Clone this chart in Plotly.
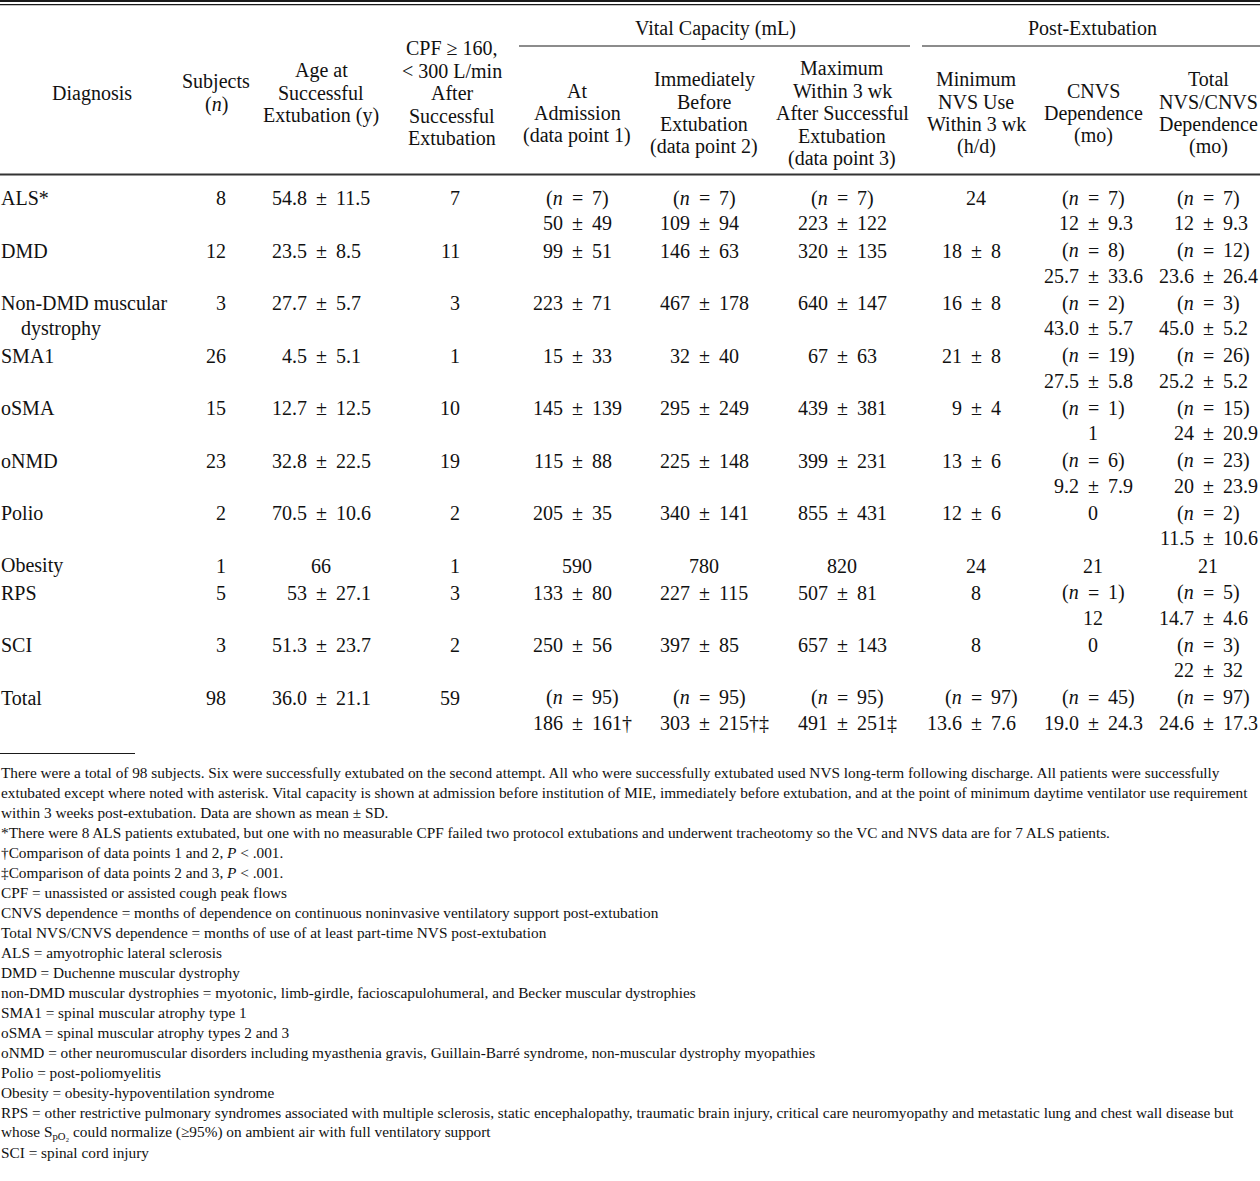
import plotly.graph_objects as go

# ---------------- data ----------------
diagnosis = ["ALS*", "DMD", "Non-DMD muscular\ndystrophy", "SMA1", "oSMA", "oNMD",
             "Polio", "Obesity", "RPS", "SCI", "Total"]
subjects_n = ["8", "12", "3", "26", "15", "23", "2", "1", "5", "3", "98"]
age_mean = ["54.8", "23.5", "27.7", "4.5", "12.7", "32.8", "70.5", "66", "53", "51.3", "36.0"]
age_sd = ["11.5", "8.5", "5.7", "5.1", "12.5", "22.5", "10.6", None, "27.1", "23.7", "21.1"]
cpf_count = ["7", "11", "3", "1", "10", "19", "2", "1", "3", "2", "59"]

vc1_n = ["7", None, None, None, None, None, None, None, None, None, "95"]
vc1_mean = ["50", "99", "223", "15", "145", "115", "205", "590", "133", "250", "186"]
vc1_sd = ["49", "51", "71", "33", "139", "88", "35", None, "80", "56", "161†"]

vc2_n = ["7", None, None, None, None, None, None, None, None, None, "95"]
vc2_mean = ["109", "146", "467", "32", "295", "225", "340", "780", "227", "397", "303"]
vc2_sd = ["94", "63", "178", "40", "249", "148", "141", None, "115", "85", "215†‡"]

vc3_n = ["7", None, None, None, None, None, None, None, None, None, "95"]
vc3_mean = ["223", "320", "640", "67", "439", "399", "855", "820", "507", "657", "491"]
vc3_sd = ["122", "135", "147", "63", "381", "231", "431", None, "81", "143", "251‡"]

nvs_n = [None, None, None, None, None, None, None, None, None, None, "97"]
nvs_mean = ["24", "18", "16", "21", "9", "13", "12", "24", "8", "8", "13.6"]
nvs_sd = [None, "8", "8", "8", "4", "6", "6", None, None, None, "7.6"]

cnvs_n = ["7", "8", "2", "19", "1", "6", None, None, "1", None, "45"]
cnvs_mean = ["12", "25.7", "43.0", "27.5", "1", "9.2", "0", "21", "12", "0", "19.0"]
cnvs_sd = ["9.3", "33.6", "5.7", "5.8", None, "7.9", None, None, None, None, "24.3"]

tot_n = ["7", "12", "3", "26", "15", "23", "2", None, "5", "3", "97"]
tot_mean = ["12", "23.6", "45.0", "25.2", "24", "20", "11.5", "21", "14.7", "22", "24.6"]
tot_sd = ["9.3", "26.4", "5.2", "5.2", "20.9", "23.9", "10.6", None, "4.6", "32", "17.3"]

spanners = ["Vital Capacity (mL)", "Post-Extubation"]
headers = [
    ["Diagnosis"],
    ["Subjects", "(<i>n</i>)"],
    ["Age at", "Successful", "Extubation (y)"],
    ["CPF ≥ 160,", "< 300 L/min", "After", "Successful", "Extubation"],
    ["At", "Admission", "(data point 1)"],
    ["Immediately", "Before", "Extubation", "(data point 2)"],
    ["Maximum", "Within 3 wk", "After Successful", "Extubation", "(data point 3)"],
    ["Minimum", "NVS Use", "Within 3 wk", "(h/d)"],
    ["CNVS", "Dependence", "(mo)"],
    ["Total", "NVS/CNVS", "Dependence", "(mo)"],
]

footnotes = [
    "There were a total of 98 subjects. Six were successfully extubated on the second attempt. All who were successfully extubated used NVS long-term following discharge. All patients were successfully",
    "extubated except where noted with asterisk. Vital capacity is shown at admission before institution of MIE, immediately before extubation, and at the point of minimum daytime ventilator use requirement",
    "within 3 weeks post-extubation. Data are shown as mean ± SD.",
    "*There were 8 ALS patients extubated, but one with no measurable CPF failed two protocol extubations and underwent tracheotomy so the VC and NVS data are for 7 ALS patients.",
    "†Comparison of data points 1 and 2, <i>P</i> < .001.",
    "‡Comparison of data points 2 and 3, <i>P</i> < .001.",
    "CPF = unassisted or assisted cough peak flows",
    "CNVS dependence = months of dependence on continuous noninvasive ventilatory support post-extubation",
    "Total NVS/CNVS dependence = months of use of at least part-time NVS post-extubation",
    "ALS = amyotrophic lateral sclerosis",
    "DMD = Duchenne muscular dystrophy",
    "non-DMD muscular dystrophies = myotonic, limb-girdle, facioscapulohumeral, and Becker muscular dystrophies",
    "SMA1 = spinal muscular atrophy type 1",
    "oSMA = spinal muscular atrophy types 2 and 3",
    "oNMD = other neuromuscular disorders including myasthenia gravis, Guillain-Barré syndrome, non-muscular dystrophy myopathies",
    "Polio = post-poliomyelitis",
    "Obesity = obesity-hypoventilation syndrome",
    "RPS = other restrictive pulmonary syndromes associated with multiple sclerosis, static encephalopathy, traumatic brain injury, critical care neuromyopathy and metastatic lung and chest wall disease but",
    "whose S<sub>pO₂</sub> could normalize (≥95%) on ambient air with full ventilatory support",
    "SCI = spinal cord injury",
]

# ---------------- layout constants ----------------
W, H = 1260, 1181
FONT = "Liberation Serif, Times New Roman, serif"
INK = "#111111"
BODY = 20
NOTE = 15.3

col_x = [92, 216, 321, 452, 577, 704, 842, 976, 1093, 1208]
header_mid = [93, 93, 93, 93, 113, 113, 113, 113, 113, 113]
HEAD_LS = 22.5
LINE2 = 25.0
GAP = 13.5

anns = []


def txt(x, y, s, anchor="center", size=BODY):
    anns.append(dict(x=x, y=y, xref="x", yref="y", text=s, showarrow=False,
                     xanchor=anchor, yanchor="middle", borderpad=0,
                     font=dict(family=FONT, size=size, color=INK)))


def split_cell(cx, y, left, mid, right):
    txt(cx - GAP, y, left, "right")
    txt(cx, y, mid, "center")
    txt(cx + GAP, y, right, "left")


def value_cell(cx, y, n, mean, sd):
    if n is not None:
        split_cell(cx, y, "(<i>n</i>", "=", n + ")")
        y = y + LINE2
    if sd is None:
        txt(cx, y, mean, "center")
    else:
        split_cell(cx, y, mean, "±", sd)


# headers
for cx, mid, lines in zip(col_x, header_mid, headers):
    top = mid - HEAD_LS * (len(lines) - 1) / 2
    for i, s in enumerate(lines):
        txt(cx, top + i * HEAD_LS, s)
txt(715, 28, spanners[0])
txt(1092, 28, spanners[1])

# body rows
value_cols = [
    (col_x[4], vc1_n, vc1_mean, vc1_sd),
    (col_x[5], vc2_n, vc2_mean, vc2_sd),
    (col_x[6], vc3_n, vc3_mean, vc3_sd),
    (col_x[7], nvs_n, nvs_mean, nvs_sd),
    (col_x[8], cnvs_n, cnvs_mean, cnvs_sd),
    (col_x[9], tot_n, tot_mean, tot_sd),
]

y = 198.0
for r in range(len(diagnosis)):
    dlines = diagnosis[r].split("\n")
    nlines = max([len(dlines)] + [2 if c[1][r] is not None else 1 for c in value_cols])
    for i, s in enumerate(dlines):
        txt(0 if i == 0 else 20, y + i * LINE2, s, "left")
    txt(227, y, subjects_n[r], "right")
    if age_sd[r] is None:
        txt(col_x[2], y, age_mean[r], "center")
    else:
        split_cell(col_x[2], y, age_mean[r], "±", age_sd[r])
    txt(461, y, cpf_count[r], "right")
    for cx, nl, ml, sl in value_cols:
        value_cell(cx, y, nl[r], ml[r], sl[r])
    y += 27 + 25.5 * (nlines - 1)

# footnotes
for i, s in enumerate(footnotes):
    txt(0, 772 + 20 * i, s, "left", NOTE)

# rules
def hline(x0, x1, yy, w, color="#1a1a1a"):
    return dict(type="line", xref="x", yref="y", x0=x0, x1=x1, y0=yy, y1=yy,
                line=dict(color=color, width=w))

shapes = [
    hline(0, W, 1.0, 2.2),
    hline(0, W, 4.6, 1.1),
    hline(519, 910, 46, 1.2),
    hline(922, W, 46, 1.2),
    hline(0, W, 174.6, 2.0, "#333333"),
    hline(0, 135, 753.5, 1.2),
]

fig = go.Figure()
fig.add_trace(go.Scatter(x=[0, W], y=[0, H], mode="markers",
                         marker=dict(opacity=0), hoverinfo="skip", showlegend=False))
fig.update_layout(
    width=W, height=H,
    margin=dict(l=0, r=0, t=0, b=0),
    paper_bgcolor="white", plot_bgcolor="white",
    xaxis=dict(range=[0, W], visible=False, fixedrange=True),
    yaxis=dict(range=[H, 0], visible=False, fixedrange=True),
    annotations=anns, shapes=shapes, showlegend=False,
)
fig.write_html("out.html", config={"displayModeBar": False},
               post_script="document.body.style.margin='0';document.body.style.padding='0';")
